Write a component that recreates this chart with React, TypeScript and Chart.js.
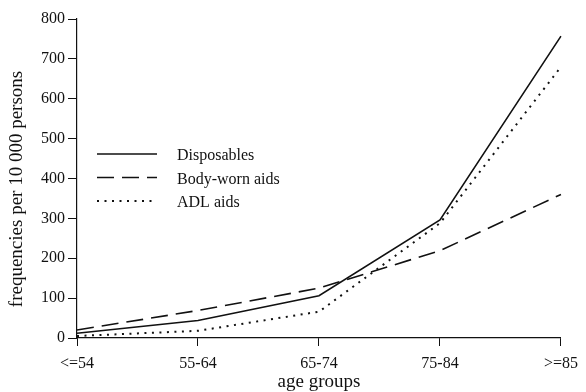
import React, { useEffect, useRef } from "react";
import { Chart, registerables } from "chart.js";

Chart.register(...registerables);

const categories = ["<=54", "55-64", "65-74", "75-84", ">=85"];
const disposables = [12, 44, 106, 296, 757];
const bodyWorn = [20, 69, 125, 219, 360];
const adlAids = [5, 18, 66, 288, 680];
const seriesLabels = ["Disposables", "Body-worn aids", "ADL aids"];
const yTicks = [0, 100, 200, 300, 400, 500, 600, 700, 800];
const xTitle = "age groups";
const yTitle = "frequencies per 10 000 persons";

const FONT = "'Liberation Serif', 'Times New Roman', serif";
const INK = "#111";

const legendPlugin = {
  id: "insideLegend",
  afterDraw(chart: any) {
    const ctx = chart.ctx;
    const rows = [154, 177.5, 201];
    ctx.save();
    chart.data.datasets.forEach((ds: any, i: number) => {
      const y = rows[i];
      ctx.beginPath();
      ctx.strokeStyle = ds.borderColor;
      ctx.lineWidth = ds.borderWidth;
      ctx.setLineDash(ds.borderDash || []);
      ctx.lineCap = "butt";
      ctx.moveTo(97, y);
      ctx.lineTo(157, y);
      ctx.stroke();
      ctx.setLineDash([]);
      ctx.fillStyle = INK;
      ctx.font = `16px ${FONT}`;
      ctx.textBaseline = "middle";
      ctx.textAlign = "left";
      ctx.fillText(ds.label, 177, y + 2);
    });
    // y-axis title (placed slightly below the chart-area centre, as in the reference)
    ctx.translate(17, 189);
    ctx.rotate(-Math.PI / 2);
    ctx.font = `19px ${FONT}`;
    ctx.textAlign = "center";
    ctx.textBaseline = "middle";
    ctx.fillStyle = INK;
    ctx.fillText(yTitle, 0, 0);
    ctx.restore();
  },
};

export default function App() {
  const ref = useRef<HTMLCanvasElement>(null);
  useEffect(() => {
    if (!ref.current) return;
    const chart = new Chart(ref.current, {
      type: "line",
      data: {
        labels: categories,
        datasets: [
          {
            label: seriesLabels[0],
            data: disposables,
            borderColor: INK,
            borderWidth: 1.6,
            pointRadius: 0,
            tension: 0,
          },
          {
            label: seriesLabels[1],
            data: bodyWorn,
            borderColor: INK,
            borderWidth: 1.6,
            borderDash: [17, 8],
            pointRadius: 0,
            tension: 0,
          },
          {
            label: seriesLabels[2],
            data: adlAids,
            borderColor: INK,
            borderWidth: 2,
            borderDash: [2, 5.5],
            pointRadius: 0,
            tension: 0,
          },
        ],
      },
      options: {
        responsive: false,
        animation: false,
        layout: { padding: { top: 19, right: 17, left: 0, bottom: 0 } },
        plugins: { legend: { display: false }, tooltip: { enabled: false } },
        scales: {
          x: {
            offset: false,
            grid: {
              drawOnChartArea: false,
              drawTicks: true,
              tickLength: 8,
              color: INK,
              lineWidth: 1,
            },
            border: { display: true, color: INK, width: 1.2 },
            ticks: {
              color: INK,
              font: { family: FONT, size: 16 },
              padding: 8,
              maxRotation: 0,
              autoSkip: false,
            },
            title: {
              display: true,
              text: xTitle,
              color: INK,
              font: { family: FONT, size: 19, lineHeight: 1 },
              padding: 0,
            },
            afterFit(scale: any) {
              scale.height = 54;
            },
          },
          y: {
            min: 0,
            max: 800,
            afterBuildTicks(scale: any) {
              scale.ticks = yTicks.map((v) => ({ value: v }));
            },
            grid: {
              drawOnChartArea: false,
              drawTicks: true,
              tickLength: 9,
              color: INK,
              lineWidth: 1,
            },
            border: { display: true, color: INK, width: 1.2 },
            ticks: {
              color: INK,
              font: { family: FONT, size: 16 },
              padding: 3,
            },
            afterFit(scale: any) {
              scale.width = 77;
            },
          },
        },
      },
      plugins: [legendPlugin],
    });
    return () => chart.destroy();
  }, []);
  return (
    <div style={{ position: "absolute", left: 0, top: 0, width: 586, height: 392, background: "#fff" }}>
      <canvas ref={ref} width={586} height={392} />
    </div>
  );
}
